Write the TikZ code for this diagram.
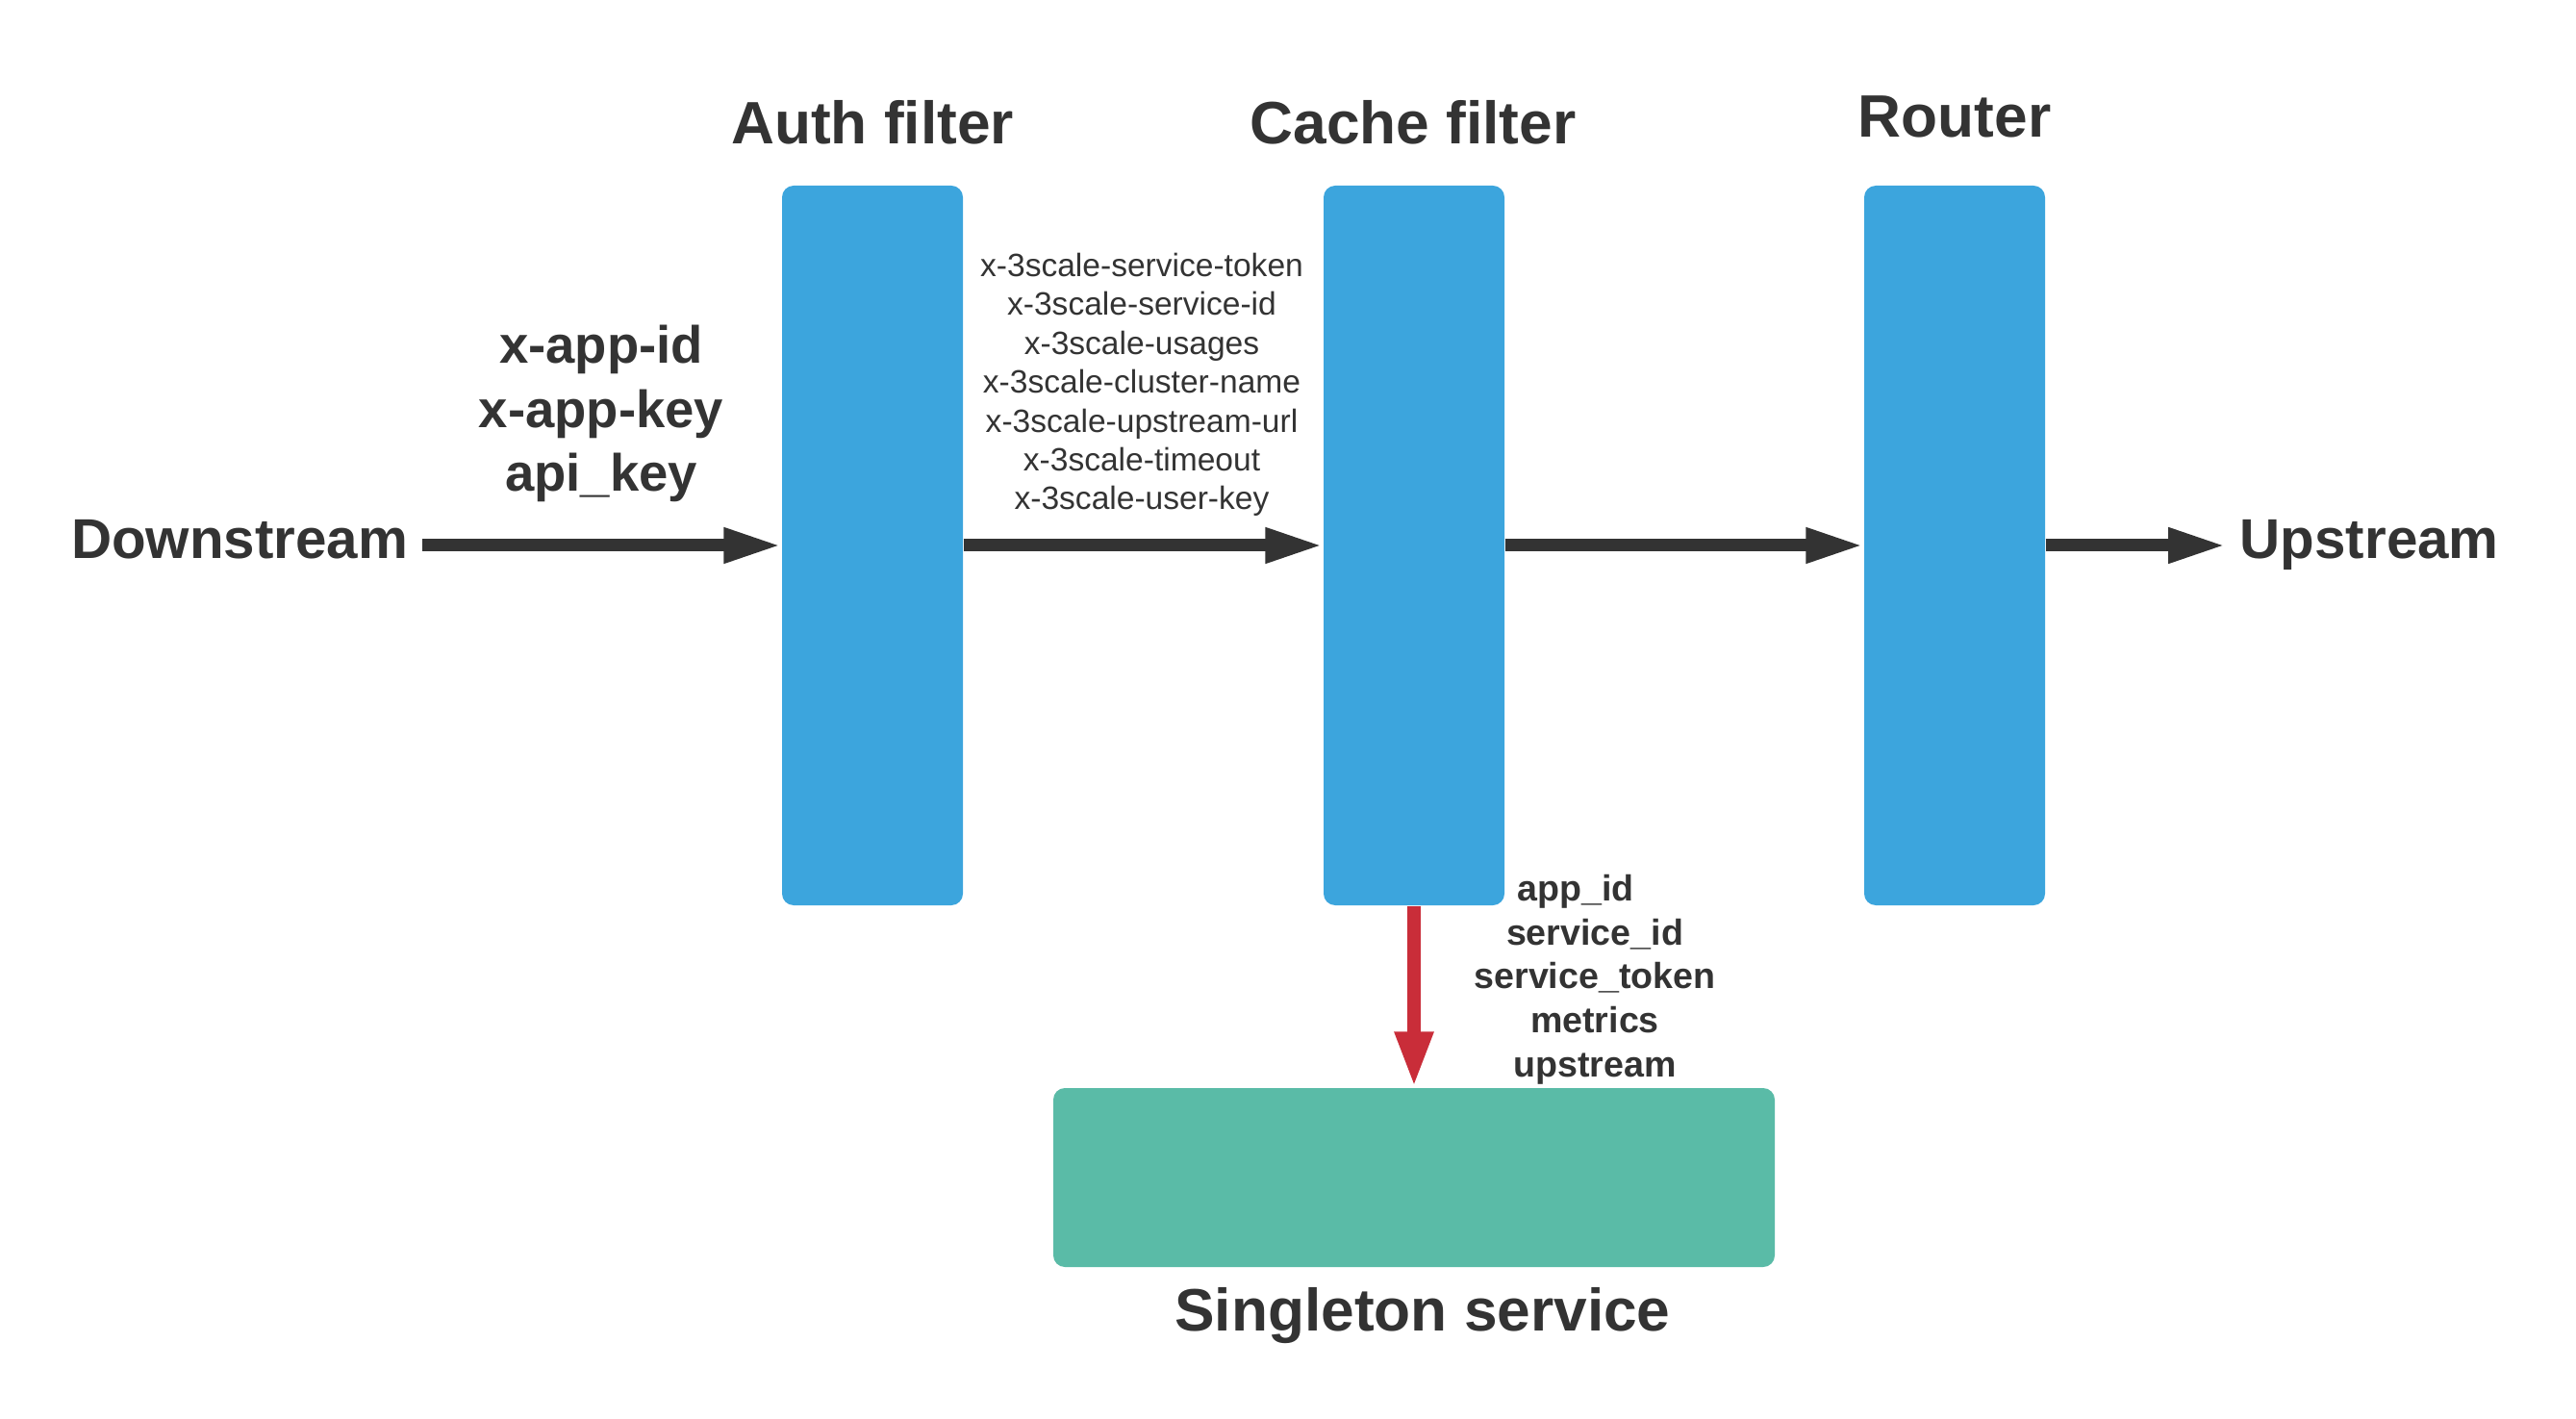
\documentclass[tikz,border=0pt]{standalone}
\usepackage{fontspec}
\setmainfont{Liberation Sans}
\usetikzlibrary{arrows.meta,positioning}
\definecolor{boxblue}{HTML}{3CA5DD}
\definecolor{svcgreen}{HTML}{5ABBA7}
\definecolor{callred}{HTML}{C92D39}
\definecolor{ink}{HTML}{333333}
\tikzset{
  filterbox/.style={fill=boxblue, rounded corners=0.12cm, minimum width=1.88cm, minimum height=7.48cm, inner sep=0},
  hdr/.style={font=\fontsize{17.7}{21}\selectfont\bfseries, text=ink, anchor=base},
  ends/.style={font=\fontsize{16.6}{20}\selectfont\bfseries, text=ink, inner sep=0.14cm},
  keys/.style={font=\fontsize{15.5}{18.9}\selectfont\bfseries, text=ink, align=center},
  hdrlist/.style={font=\fontsize{9.55}{11.5}\selectfont, text=ink, align=center},
  params/.style={font=\fontsize{10.7}{13}\selectfont\bfseries, text=ink, align=center},
  flow/.style={draw=ink, line width=0.13cm, -{Triangle[length=0.6cm,width=0.34cm]}},
  call/.style={draw=callred, line width=0.14cm, -{Triangle[length=0.58cm,width=0.37cm]}},
}
\begin{document}
\begin{tikzpicture}
  \useasboundingbox (0,0) rectangle (26.78,14.74);
    %%filters
    \node[filterbox] (auth) at (9.07,9.07) {};
    \node[filterbox] (cache) at (14.70,9.07) {};
    \node[filterbox] (router) at (20.32,9.07) {};
    \node[fill=svcgreen, rounded corners=0.12cm, minimum width=7.5cm, minimum height=1.86cm] (single) at (14.70,2.50) {};
    %%titles
    \node[hdr] (authT) at (9.07,13.24) {Auth filter};
    \node[hdr] (cacheT) at (14.69,13.24) {Cache filter};
    \node[hdr] (routerT) at (20.32,13.31) {Router};
    \node[hdr, anchor=center] (singleT) at (14.79,1.06) {Singleton service};
    %%ends
    \node[ends, anchor=base east] (down) at (4.39,8.93) {Downstream};
    \node[ends, anchor=base west] (up) at (23.14,8.93) {Upstream};
    %%labels
    \node[keys] (appkeys) at (6.25,10.44) {x-app-id\\x-app-key\\api\_key};
    \node[hdrlist] (scalehdrs) at (11.87,10.74) {x-3scale-service-token\\x-3scale-service-id\\x-3scale-usages\\x-3scale-cluster-name\\x-3scale-upstream-url\\x-3scale-timeout\\x-3scale-user-key};
    \node[params] (callparams) at (16.58,4.56) {app\_id\hspace*{0.4cm}\\service\_id\\service\_token\\metrics\\upstream};
    %%arrows
    \draw[flow] (down.east |- auth.west) -- (auth.west);
    \draw[flow] (auth.east) -- (cache.west);
    \draw[flow] (cache.east) -- (router.west);
    \draw[flow] (router.east) -- (up.west |- router.east);
    \draw[call] (cache.south) -- (single.north);
\end{tikzpicture}
\end{document}
